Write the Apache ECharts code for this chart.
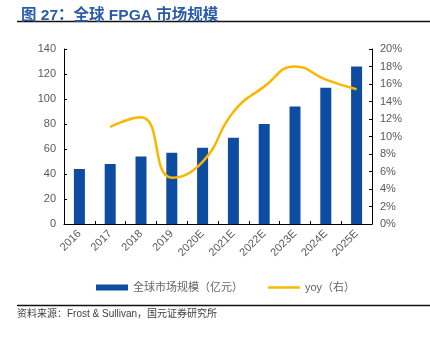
<!DOCTYPE html>
<html>
<head>
<meta charset="utf-8">
<script src="https://cdn.jsdelivr.net/npm/echarts@6/dist/echarts.min.js"></script>
<style>
  html, body { margin: 0; padding: 0; background: #fff; }
  #chart { width: 430px; height: 337px; }
</style>
</head>
<body>
<div id="chart"></div>
<script>
// Global FPGA market size (100M CNY) and year-on-year growth
const years = ['2016', '2017', '2018', '2019', '2020E', '2021E', '2022E', '2023E', '2024E', '2025E'];
const marketSize = [44, 48, 54, 57, 61, 69, 80, 94, 109, 126];
const yoyPct = [null, 11.1, 12.2, 5.3, 7.1, 12.8, 15.7, 18.0, 16.5, 15.4];
const leftTicks = { min: 0, max: 140, interval: 20 };
const rightTicks = { min: 0, max: 20, interval: 2 };

const cjk = '"Liberation Sans", Arial, "Noto Sans CJK SC", sans-serif';
const chart = echarts.init(document.getElementById('chart'), null, { renderer: 'canvas' });

chart.setOption({
  animation: false,
  backgroundColor: '#ffffff',
  textStyle: { fontFamily: cjk },
  title: {
    text: '图 27：全球 FPGA 市场规模',
    left: 16, top: 3,
    textStyle: { color: '#2b5ca8', fontSize: 15.5, fontWeight: 'bold', fontFamily: cjk }
  },
  graphic: [
    { type: 'line', shape: { x1: 17, y1: 21.5, x2: 430, y2: 21.5 }, style: { stroke: '#111', lineWidth: 1.5 } },
    { type: 'line', shape: { x1: 17, y1: 305.5, x2: 430, y2: 305.5 }, style: { stroke: '#111', lineWidth: 1.5 } },
    { type: 'text', left: 17, top: 309,
      style: { text: '资料来源：Frost & Sullivan，国元证券研究所', fill: '#404040', fontSize: 10, fontFamily: cjk } }
  ],
  legend: {
    top: 277, left: 91, itemGap: 25, itemWidth: 32, itemHeight: 6,
    textStyle: { color: '#666666', fontSize: 11, fontFamily: cjk },
    data: [
      { name: '全球市场规模（亿元）', icon: 'rect' },
      { name: 'yoy（右）', icon: 'path://M0,0H32V2.5H0Z' }
    ]
  },
  grid: { left: 64, right: 58, top: 49, bottom: 113 },
  xAxis: {
    type: 'category',
    data: years,
    axisLine: { lineStyle: { color: '#000', width: 1 } },
    axisTick: { show: true, inside: true, length: 3, lineStyle: { color: '#000' } },
    axisLabel: { rotate: 45, color: '#595959', fontSize: 11, margin: 8 }
  },
  yAxis: [
    {
      type: 'value', min: leftTicks.min, max: leftTicks.max, interval: leftTicks.interval,
      axisLine: { show: true, lineStyle: { color: '#000' } },
      axisTick: { show: true, inside: true, length: 3, lineStyle: { color: '#000' } },
      axisLabel: { color: '#595959', fontSize: 11, margin: 8 },
      splitLine: { show: false }
    },
    {
      type: 'value', min: rightTicks.min, max: rightTicks.max, interval: rightTicks.interval,
      axisLine: { show: true, lineStyle: { color: '#000' } },
      axisTick: { show: true, inside: true, length: 3, lineStyle: { color: '#000' } },
      axisLabel: { color: '#595959', fontSize: 11, margin: 8, formatter: '{value}%' },
      splitLine: { show: false }
    }
  ],
  series: [
    {
      name: '全球市场规模（亿元）', type: 'bar', data: marketSize,
      barWidth: 11, itemStyle: { color: '#0d4ca1' }
    },
    {
      name: 'yoy（右）', type: 'line', yAxisIndex: 1, data: yoyPct,
      smooth: true, showSymbol: false, symbol: 'none',
      lineStyle: { color: '#fbb700', width: 2.5 }, itemStyle: { color: '#fbb700' }
    }
  ]
});
</script>
</body>
</html>
